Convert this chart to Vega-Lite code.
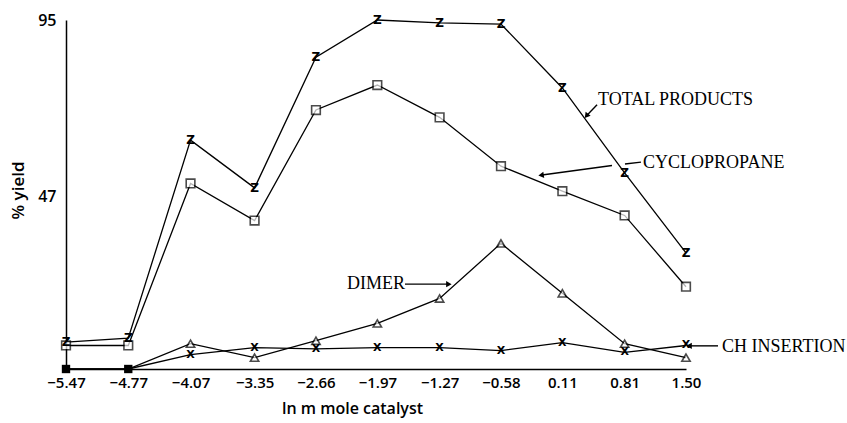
{
  "$schema": "https://vega.github.io/schema/vega-lite/v6.json",
  "autosize": {"type": "none"},
  "width": 620,
  "height": 349,
  "padding": {"left": 66, "top": 20, "right": 161, "bottom": 54},
  "background": "white",
  "config": {"view": {"stroke": null}, "axis": {"grid": false, "domainColor": "black", "domainWidth": 1.5, "ticks": false, "labelColor": "black", "titleColor": "black", "labelFont": "Open Sans", "titleFont": "Open Sans"}},
  "datasets": {
    "series": [
      {"x": -5.47, "y": 7.3, "s": "total"}, {"x": -4.77, "y": 8.4, "s": "total"}, {"x": -4.07, "y": 62.3, "s": "total"}, {"x": -3.35, "y": 49.3, "s": "total"}, {"x": -2.66, "y": 84.9, "s": "total"}, {"x": -1.97, "y": 95.0, "s": "total"}, {"x": -1.27, "y": 94.2, "s": "total"}, {"x": -0.58, "y": 93.9, "s": "total"}, {"x": 0.11, "y": 76.5, "s": "total"}, {"x": 0.81, "y": 53.4, "s": "total"}, {"x": 1.50, "y": 31.6, "s": "total"},
      {"x": -5.47, "y": 6.4, "s": "cyclo"}, {"x": -4.77, "y": 6.4, "s": "cyclo"}, {"x": -4.07, "y": 50.5, "s": "cyclo"}, {"x": -3.35, "y": 40.4, "s": "cyclo"}, {"x": -2.66, "y": 70.5, "s": "cyclo"}, {"x": -1.97, "y": 77.3, "s": "cyclo"}, {"x": -1.27, "y": 68.5, "s": "cyclo"}, {"x": -0.58, "y": 55.2, "s": "cyclo"}, {"x": 0.11, "y": 48.4, "s": "cyclo"}, {"x": 0.81, "y": 41.8, "s": "cyclo"}, {"x": 1.50, "y": 22.4, "s": "cyclo"},
      {"x": -5.47, "y": 0, "s": "dimer"}, {"x": -4.77, "y": 0, "s": "dimer"}, {"x": -4.07, "y": 6.9, "s": "dimer"}, {"x": -3.35, "y": 3.1, "s": "dimer"}, {"x": -2.66, "y": 7.7, "s": "dimer"}, {"x": -1.97, "y": 12.4, "s": "dimer"}, {"x": -1.27, "y": 19.2, "s": "dimer"}, {"x": -0.58, "y": 34.2, "s": "dimer"}, {"x": 0.11, "y": 20.6, "s": "dimer"}, {"x": 0.81, "y": 6.9, "s": "dimer"}, {"x": 1.50, "y": 3.1, "s": "dimer"},
      {"x": -5.47, "y": 0, "s": "ch"}, {"x": -4.77, "y": 0, "s": "ch"}, {"x": -4.07, "y": 3.9, "s": "ch"}, {"x": -3.35, "y": 5.8, "s": "ch"}, {"x": -2.66, "y": 5.5, "s": "ch"}, {"x": -1.97, "y": 5.8, "s": "ch"}, {"x": -1.27, "y": 5.8, "s": "ch"}, {"x": -0.58, "y": 5.0, "s": "ch"}, {"x": 0.11, "y": 7.2, "s": "ch"}, {"x": 0.81, "y": 4.5, "s": "ch"}, {"x": 1.50, "y": 6.4, "s": "ch"}
    ],
    "labels": [
      {"x": 0.511, "y": 73.2, "text": "TOTAL PRODUCTS"},
      {"x": 1.017, "y": 56.1, "text": "CYCLOPROPANE"},
      {"x": -2.311, "y": 23.1, "text": "DIMER"},
      {"x": 1.905, "y": 6.0, "text": "CH INSERTION"}
    ],
    "arrows": [
      {"x": 0.500, "y": 71.9, "x2": 0.387, "y2": 69.1, "head": 1, "angle": 218},
      {"x": 0.994, "y": 56.3, "x2": 0.814, "y2": 55.8, "head": 0, "angle": 0},
      {"x": 0.668, "y": 55.4, "x2": -0.119, "y2": 52.8, "head": 1, "angle": 262},
      {"x": -1.659, "y": 23.1, "x2": -1.176, "y2": 23.1, "head": 1, "angle": 90},
      {"x": 1.860, "y": 6.3, "x2": 1.545, "y2": 6.3, "head": 1, "angle": 270}
    ]
  },
  "layer": [
    {
      "data": {"name": "series"},
      "mark": {"type": "line", "color": "black", "strokeWidth": 1.3},
      "encoding": {
        "x": {"field": "x", "type": "quantitative", "scale": {"domain": [-5.47, 1.5], "nice": false, "zero": false},
          "axis": {"values": [-5.47, -4.77, -4.07, -3.35, -2.66, -1.97, -1.27, -0.58, 0.11, 0.81, 1.5], "format": ".2f", "title": "ln m mole catalyst", "labelFontSize": 15, "labelFontWeight": 600, "labelPadding": 6, "titleFontSize": 16, "titleFontWeight": 600, "titleX": 286, "titleY": 31, "labelFlush": false}},
        "y": {"field": "y", "type": "quantitative", "scale": {"domain": [0, 95], "nice": false},
          "axis": {"values": [47, 95], "title": "% yield", "labelFontSize": 16, "labelFontWeight": 600, "labelPadding": 10, "titleFontSize": 17, "titleFontWeight": 600, "titleX": -48, "titleY": 170, "titleAngle": -90, "titleBaseline": "middle", "labelFlush": false}},
        "detail": {"field": "s"}
      }
    },
    {
      "data": {"name": "series"},
      "transform": [{"filter": "datum.s === 'dimer' && datum.x < -4.5"}],
      "mark": {"type": "point", "shape": "square", "filled": true, "color": "black", "size": 70, "opacity": 1},
      "encoding": {"x": {"field": "x", "type": "quantitative"}, "y": {"field": "y", "type": "quantitative"}}
    },
    {
      "data": {"name": "series"},
      "transform": [{"filter": "datum.s === 'cyclo'"}],
      "mark": {"type": "point", "shape": "square", "filled": true, "fill": "white", "stroke": "black", "strokeWidth": 1.6, "size": 75},
      "encoding": {"x": {"field": "x", "type": "quantitative"}, "y": {"field": "y", "type": "quantitative"}}
    },
    {
      "data": {"name": "series"},
      "transform": [{"filter": "datum.s === 'dimer' && datum.x > -4.5"}],
      "mark": {"type": "point", "shape": "triangle-up", "filled": true, "fill": "white", "stroke": "black", "strokeWidth": 1.6, "size": 70},
      "encoding": {"x": {"field": "x", "type": "quantitative"}, "y": {"field": "y", "type": "quantitative"}}
    },
    {
      "data": {"name": "series"},
      "transform": [{"filter": "datum.s === 'total'"}],
      "mark": {"type": "text", "text": "Z", "font": "DejaVu Sans", "fontSize": 12, "fontWeight": "bold", "color": "black", "baseline": "middle"},
      "encoding": {"x": {"field": "x", "type": "quantitative"}, "y": {"field": "y", "type": "quantitative"}}
    },
    {
      "data": {"name": "series"},
      "transform": [{"filter": "datum.s === 'ch' && datum.x > -4.5"}],
      "mark": {"type": "text", "text": "X", "font": "DejaVu Sans", "fontSize": 11, "fontWeight": "bold", "color": "black", "baseline": "middle"},
      "encoding": {"x": {"field": "x", "type": "quantitative"}, "y": {"field": "y", "type": "quantitative"}}
    },
    {
      "data": {"name": "labels"},
      "mark": {"type": "text", "font": "Liberation Serif", "fontSize": 18, "color": "black", "baseline": "middle", "align": "left"},
      "encoding": {"x": {"field": "x", "type": "quantitative"}, "y": {"field": "y", "type": "quantitative"}, "text": {"field": "text"}}
    },
    {
      "data": {"name": "arrows"},
      "mark": {"type": "rule", "color": "black", "strokeWidth": 1.4},
      "encoding": {"x": {"field": "x", "type": "quantitative"}, "y": {"field": "y", "type": "quantitative"}, "x2": {"field": "x2"}, "y2": {"field": "y2"}}
    },
    {
      "data": {"name": "arrows"},
      "transform": [{"filter": "datum.head === 1"}],
      "mark": {"type": "point", "shape": "triangle", "filled": true, "color": "black", "size": 40, "opacity": 1},
      "encoding": {"x": {"field": "x2", "type": "quantitative"}, "y": {"field": "y2", "type": "quantitative"}, "angle": {"field": "angle", "type": "quantitative", "scale": {"domain": [0, 360], "range": [0, 360]}}}
    }
  ]
}
